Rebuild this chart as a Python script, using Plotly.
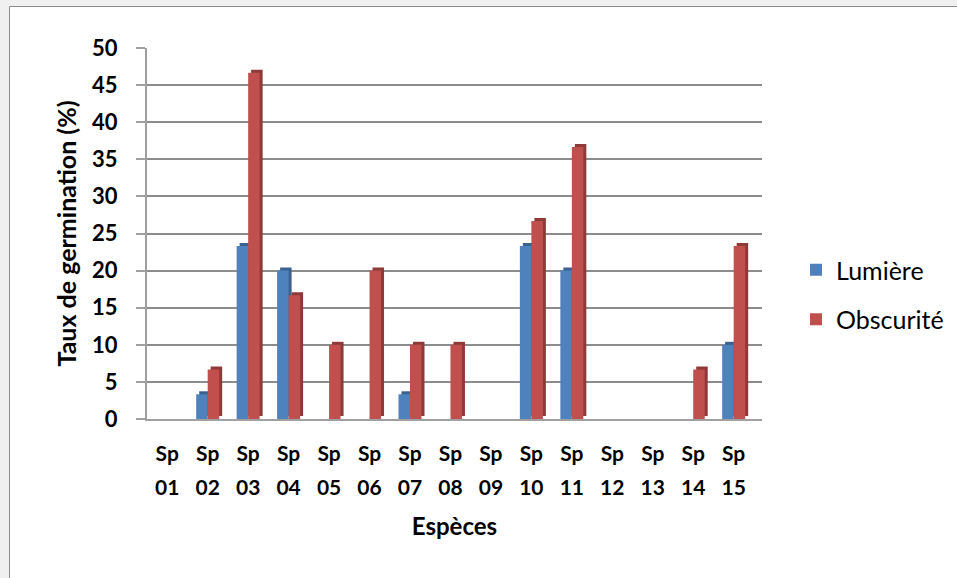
import plotly.graph_objects as go

species_numbers = ["01", "02", "03", "04", "05", "06", "07", "08", "09", "10", "11", "12", "13", "14", "15"]
species_prefix = "Sp"
categories = [f"{species_prefix} {n}" for n in species_numbers]
lumiere = [0, 3.33, 23.33, 20, 0, 0, 3.33, 0, 0, 23.33, 20, 0, 0, 0, 10]
obscurite = [0, 6.67, 46.67, 16.67, 10, 20, 10, 10, 0, 26.67, 36.67, 0, 0, 6.67, 23.33]
y_ticks = [0, 5, 10, 15, 20, 25, 30, 35, 40, 45, 50]

W, H = 957, 578
L, R, T, B = 147, 762, 48, 419
X_MAX = len(categories) - 0.3
CAT_PX = (R - L) / (X_MAX + 0.5)
UNIT_PX = (B - T) / 50.0

bar_w = 11.5 / CAT_PX
depth_dx = 3.0 / CAT_PX
depth_dy = 3.0 / UNIT_PX
blue_off = -bar_w
red_off = 0.0

fig = go.Figure()
series = [
    ("Lumière", lumiere, "#4F81BD", "#3A6190", blue_off, "g1"),
    ("Obscurité", obscurite, "#C0504D", "#8E3A38", red_off, "g2"),
]
for name, vals, front, dark, off, grp in series:
    fig.add_trace(go.Bar(x=categories, y=vals, base=depth_dy, offset=off + depth_dx, width=bar_w,
                         marker_color=dark, marker_line_width=0, showlegend=False,
                         hoverinfo="skip", legendgroup=grp))
    fig.add_trace(go.Bar(x=categories, y=vals, offset=off, width=bar_w, name=name,
                         marker_color=front, marker_line_width=0, legendgroup=grp))

# invisible helper trace so the second label row (numbers) is drawn
fig.add_trace(go.Scatter(x=species_numbers, y=lumiere, xaxis="x2", mode="markers",
                         marker=dict(opacity=0), showlegend=False, hoverinfo="skip"))

def px_x(p):
    return (p - L) / (R - L)

def px_y(p):
    return (B - p) / (B - T)

fig.add_shape(type="rect", xref="paper", yref="paper",
              x0=px_x(9.5), x1=px_x(975), y0=px_y(600), y1=px_y(6.5),
              fillcolor="white", line=dict(color="#8c8c8c", width=1), layer="below")

tick_font = dict(size=21, color="black", family="Lato, sans-serif", weight="bold")

fig.update_layout(
    width=W, height=H,
    margin=dict(l=L, r=W - R, t=T, b=H - B, pad=0, autoexpand=False),
    paper_bgcolor="#f0f0f0",
    plot_bgcolor="rgba(0,0,0,0)",
    font=dict(family="Lato, Open Sans, sans-serif", color="black"),
    barmode="overlay",
    showlegend=True,
    legend=dict(x=px_x(796), y=px_y(247), xanchor="left", yanchor="top",
                font=dict(size=25, color="black"), tracegroupgap=14,
                bgcolor="rgba(0,0,0,0)", itemwidth=30, traceorder="grouped"),
    xaxis=dict(
        type="category",
        range=[-0.5, X_MAX],
        tickvals=categories, ticktext=[species_prefix] * len(categories),
        tickfont=tick_font,
        showgrid=False,
        showline=True, linecolor="#a0a0a0", linewidth=2,
        ticks="", ticklabelstandoff=15, automargin=False,
    ),
    xaxis2=dict(
        type="category", overlaying="x", side="bottom", anchor="y",
        range=[-0.5, X_MAX],
        tickvals=species_numbers, ticktext=species_numbers,
        tickfont=tick_font, automargin=False,
        showgrid=False, showline=False, ticks="", ticklabelstandoff=54,
        title=dict(text="<b>Espèces</b>", font=dict(size=24, color="black"), standoff=20),
    ),
    yaxis=dict(
        range=[0, 50], tickvals=y_ticks,
        tickfont=dict(size=22, color="black", family="Lato, sans-serif", weight="bold"),
        showgrid=True, gridcolor="#8c8c8c", gridwidth=2,
        showline=True, linecolor="#a0a0a0", linewidth=2,
        ticks="outside", ticklen=9, tickcolor="#a0a0a0", tickwidth=2,
        ticklabelstandoff=14, automargin=False,
        zeroline=False,
        title=dict(text="<b>Taux de germination (%)</b>", font=dict(size=25, color="black"), standoff=8),
    ),
)

fig.write_html("out.html", config={"displayModeBar": False},
               post_script="document.body.style.margin='0';document.body.style.background='#f0f0f0';")
